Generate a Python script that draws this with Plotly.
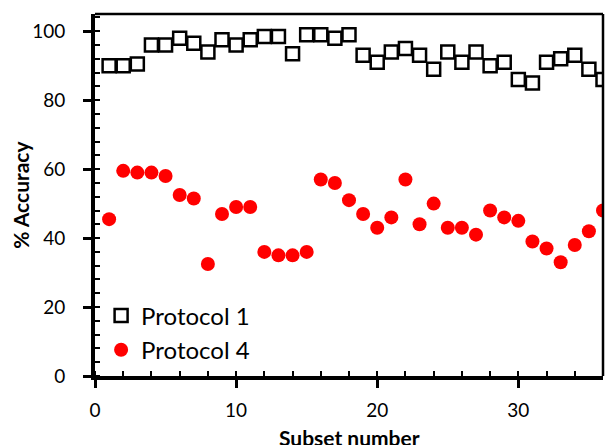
import plotly.graph_objects as go

subset = list(range(1, 37))
protocol1 = [90, 90, 90.5, 96, 96, 98, 96.5, 94, 97.5, 96, 97.5, 98.5, 98.5, 93.5, 99, 99, 98, 99,
             93, 91, 94, 95, 93, 89, 94, 91, 94, 90, 91, 86, 85, 91, 92, 93, 89, 86]
protocol4 = [45.5, 59.5, 59, 59, 58, 52.5, 51.5, 32.5, 47, 49, 49, 36, 35, 35, 36, 57, 56, 51,
             47, 43, 46, 57, 44, 50, 43, 43, 41, 48, 46, 45, 39, 37, 33, 38, 42, 48]

x_range = [0, 36]
y_range = [0, 105]
x_ticks = [0, 10, 20, 30]
y_ticks = [0, 20, 40, 60, 80, 100]
x_title = "Subset number"
y_title = "% Accuracy"

FONT = "Lato"

fig = go.Figure()
fig.add_trace(go.Scatter(
    x=subset, y=protocol1, mode="markers", name="Protocol 1",
    marker=dict(symbol="square-open", size=13, color="black", line=dict(width=2.5, color="black")),
))
fig.add_trace(go.Scatter(
    x=subset, y=protocol4, mode="markers", name="Protocol 4",
    marker=dict(symbol="circle", size=14, color="#ff0000", line=dict(width=0)),
))

fig.update_layout(
    width=607, height=445,
    margin=dict(l=95, r=4, t=14, b=69),
    plot_bgcolor="white", paper_bgcolor="white",
    font=dict(family=FONT, color="black", size=19),
    showlegend=True,
    legend=dict(
        x=0.012, y=0.228, xanchor="left", yanchor="top",
        font=dict(family=FONT, size=24, color="black"),
        bgcolor="rgba(0,0,0,0)", itemsizing="trace",
        tracegroupgap=0,
    ),
    shapes=[
        dict(type="line", xref="paper", yref="paper", x0=0, x1=1, y0=1, y1=1,
             line=dict(color="black", width=2.5)),
        dict(type="line", xref="paper", yref="paper", x0=1, x1=1, y0=0, y1=1,
             line=dict(color="black", width=2.5)),
    ],
    annotations=[
        dict(text="<b>" + x_title + "</b>", xref="paper", yref="paper", x=0.5, y=-0.17,
             xanchor="center", yanchor="middle", showarrow=False,
             font=dict(family=FONT, size=21, color="black")),
        dict(text="<b>" + y_title + "</b>", xref="paper", yref="paper", x=-0.148, y=0.5,
             xanchor="center", yanchor="middle", showarrow=False, textangle=-90,
             font=dict(family=FONT, size=21, color="black")),
    ],
)

fig.update_xaxes(
    range=x_range, tickvals=x_ticks, showgrid=False, zeroline=False, automargin=False,
    showline=True, linecolor="black", linewidth=4,
    ticks="outside", ticklen=8, tickwidth=3, tickcolor="black",
    ticklabelstandoff=6,
    minor=dict(ticks="inside", dtick=2, tick0=0, ticklen=5, tickwidth=2, tickcolor="black", showgrid=False),
    tickfont=dict(family=FONT, size=19),
)
fig.update_yaxes(
    range=y_range, tickvals=y_ticks, showgrid=False, zeroline=False, automargin=False,
    showline=True, linecolor="black", linewidth=4,
    ticks="outside", ticklen=8, tickwidth=3, tickcolor="black",
    ticklabelstandoff=14,
    minor=dict(ticks="inside", dtick=4, tick0=0, ticklen=5, tickwidth=2, tickcolor="black", showgrid=False),
    tickfont=dict(family=FONT, size=19),
)

fig.write_html("out.html", config={"displayModeBar": False},
               post_script="document.body.style.margin='0';")
